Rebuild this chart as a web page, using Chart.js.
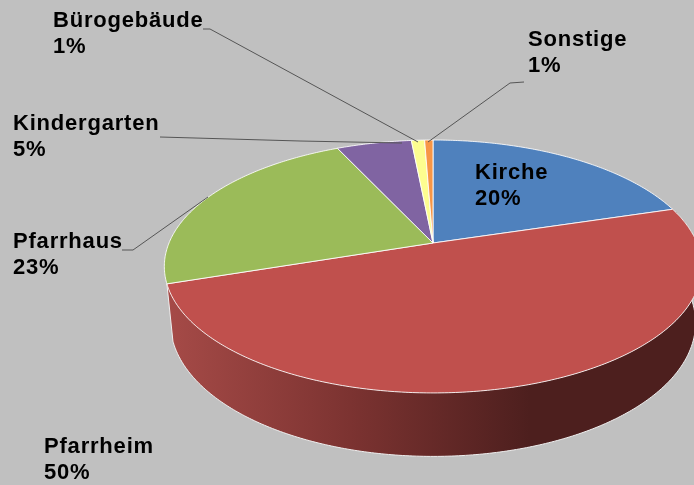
<!DOCTYPE html>
<html><head><meta charset="utf-8">
<style>html,body{margin:0;padding:0;background:#c0c0c0;overflow:hidden}canvas{display:block}</style>
<script src="https://cdn.jsdelivr.net/npm/chart.js@4"></script>
</head><body><canvas id="c" width="694" height="485"></canvas>
<script>
const categories = ['Kirche','Pfarrheim','Pfarrhaus','Kindergarten','Bürogebäude','Sonstige'];
const shares = [20.3,49.6,23.15,5.4,0.95,0.6];
const percentLabels = ['20%','50%','23%','5%','1%','1%'];
const sliceColors = ['#4f81bd','#c0504d','#9bbb59','#8064a2','#fdfd90','#f79646'];
const labelAnchors = [[475,179],[44,453],[13,248],[13,130],[53,27],[528,46]];
const leaderLines = [null,null,[[122,250],[133,250],[208,197]],[[160,137],[300,141],[402,143]],[[203,29],[210,29],[418,142]],[[524,82],[510,83],[428,142]]];

const P = {x:433,y:243,A:264,B:122.1,p:0.1856};
const Q = {x:433,y:298,A:258,B:129,p:0.1856};
const proj = (g,a)=>{const c=Math.cos(a),s=Math.sin(a),d=1-g.p*s;return [g.x+g.A*c/d,g.y+g.B*s/d];};
function rim(ctx,g,a0,a1,first){const n=Math.max(4,Math.ceil(Math.abs(a1-a0)*90));
  for(let i=0;i<=n;i++){const q=proj(g,a0+(a1-a0)*i/n);(i===0&&first)?ctx.moveTo(q[0],q[1]):ctx.lineTo(q[0],q[1]);}}

const perspectivePie = {
  id:'perspectivePie',
  beforeDatasetDraw(chart,args){
    const ctx=chart.ctx, arcs=chart.getDatasetMeta(args.index).data;
    const f=arcs[1];
    ctx.save();
    const g=ctx.createLinearGradient(170,0,530,0);
    g.addColorStop(0,'#a54a47');g.addColorStop(0.5,'#7c3331');g.addColorStop(1,'#4d1f1e');
    ctx.beginPath();rim(ctx,P,f.startAngle,f.endAngle,true);rim(ctx,Q,f.endAngle,f.startAngle,false);ctx.closePath();
    ctx.fillStyle=g;ctx.fill();
    ctx.beginPath();rim(ctx,Q,f.startAngle,f.endAngle,true);
    ctx.strokeStyle='#eeeeee';ctx.lineWidth=1;ctx.stroke();
    const a=proj(P,f.endAngle),b=proj(Q,f.endAngle);
    ctx.beginPath();ctx.moveTo(a[0],a[1]);ctx.lineTo(b[0],b[1]);ctx.stroke();
    arcs.forEach((arc,i)=>{
      ctx.beginPath();ctx.moveTo(P.x,P.y);rim(ctx,P,arc.startAngle,arc.endAngle,false);ctx.closePath();
      ctx.fillStyle=sliceColors[i];ctx.fill();
      ctx.strokeStyle='rgba(255,255,255,0.85)';ctx.lineWidth=1;ctx.stroke();
    });
    ctx.restore();
    return false;
  },
  afterDatasetsDraw(chart){
    const ctx=chart.ctx;
    ctx.save();
    ctx.strokeStyle='#555555';ctx.lineWidth=1;
    leaderLines.forEach(l=>{if(!l)return;ctx.beginPath();l.forEach((q,i)=>i?ctx.lineTo(q[0],q[1]):ctx.moveTo(q[0],q[1]));ctx.stroke();});
    ctx.fillStyle='#000';ctx.font='bold 22px "Liberation Sans"';ctx.letterSpacing='0.8px';ctx.textBaseline='alphabetic';ctx.textAlign='left';
    categories.forEach((n,i)=>{const [x,y]=labelAnchors[i];ctx.fillText(n,x,y);ctx.fillText(percentLabels[i],x,y+26);});
    ctx.restore();
  }
};
new Chart(document.getElementById('c'),{
  type:'pie',
  data:{labels:categories,datasets:[{data:shares,backgroundColor:sliceColors,borderColor:'#ffffff'}]},
  options:{responsive:false,animation:false,plugins:{legend:{display:false},tooltip:{enabled:false}}},
  plugins:[perspectivePie]
});
</script></body></html>
